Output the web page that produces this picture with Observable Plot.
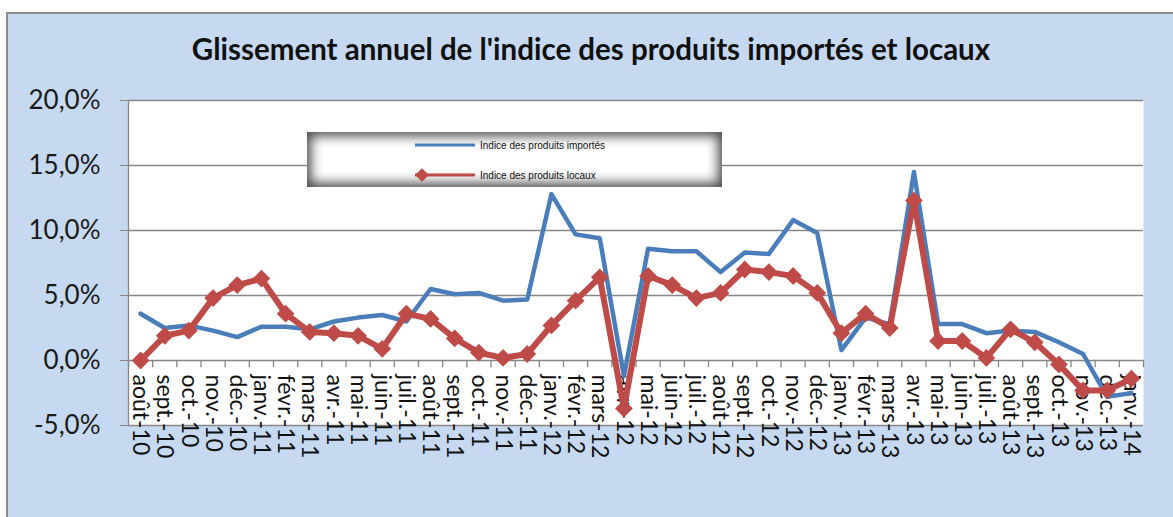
<!DOCTYPE html>
<html>
<head>
<meta charset="utf-8">
<script src="https://cdn.jsdelivr.net/npm/d3@7"></script>
<script src="https://cdn.jsdelivr.net/npm/@observablehq/plot@0.6"></script>
<style>
  html, body { margin: 0; padding: 0; background: #ffffff; }
  #wrap { position: relative; width: 1173px; height: 517px; overflow: hidden; }
  #panel { position: absolute; left: 6px; top: 12px; right: -10px; bottom: -10px;
           background: #c6d9f1; border-left: 2px solid #8c8c8c; border-top: 2px solid #8c8c8c; }
  #chart { position: absolute; left: 0; top: 0; }
  #title { position: absolute; left: 91px; top: 31px; width: 1000px; text-align: center;
           font-family: Lato, "Open Sans", sans-serif; font-weight: bold; font-size: 29.5px; color: #111; }
  #legend { position: absolute; left: 307px; top: 132px; width: 415px; height: 55px; background: #ffffff;
            box-shadow: inset 0 0 12px 4px #4a4a4a; }
</style>
</head>
<body>
<div id="wrap">
  <div id="panel"></div>
  <div id="chart"></div>
  <div id="title">Glissement annuel de l'indice des produits importés et locaux</div>
  <div id="legend"></div>
</div>
<script>
const months = ["août-10","sept.-10","oct.-10","nov.-10","déc.-10",
  "janv.-11","févr.-11","mars-11","avr.-11","mai-11","juin-11","juil.-11","août-11","sept.-11","oct.-11","nov.-11","déc.-11",
  "janv.-12","févr.-12","mars-12","avr.-12","mai-12","juin-12","juil.-12","août-12","sept.-12","oct.-12","nov.-12","déc.-12",
  "janv.-13","févr.-13","mars-13","avr.-13","mai-13","juin-13","juil.-13","août-13","sept.-13","oct.-13","nov.-13","déc.-13",
  "janv.-14"];
const importes = [3.6,2.5,2.7,2.3,1.8,2.6,2.6,2.4,3.0,3.3,3.5,3.0,5.5,5.1,5.2,4.6,4.7,
  12.8,9.7,9.4,-1.2,8.6,8.4,8.4,6.8,8.3,8.2,10.8,9.8,
  0.8,3.3,2.8,14.5,2.8,2.8,2.1,2.3,2.2,1.4,0.5,-2.8,-2.5];
const locaux = [0.0,1.9,2.3,4.8,5.8,6.3,3.6,2.2,2.1,1.9,0.9,3.6,3.2,1.7,0.6,0.2,0.5,
  2.7,4.6,6.4,-3.7,6.5,5.8,4.8,5.2,7.0,6.8,6.5,5.2,
  2.1,3.6,2.5,12.3,1.5,1.5,0.2,2.4,1.4,-0.3,-2.3,-2.3,-1.4];
const yTicks = [-5, 0, 5, 10, 15, 20];
const seriesNames = ["Indice des produits importés", "Indice des produits locaux"];

const blue = "#4a7ebb", red = "#be4b48", gray = "#868686";
const rows = months.map((m, i) => ({i, m, imp: importes[i], loc: locaux[i]}));
const bounds = d3.range(months.length + 1).map(k => k - 0.5);
const fmt = d => d3.format(".1f")(d).replace("−", "-").replace(".", ",") + "%";

const chart = Plot.plot({
  width: 1173, height: 517,
  marginLeft: 128, marginRight: 30, marginTop: 100, marginBottom: 92,
  style: {fontFamily: "Lato, 'Open Sans', sans-serif", background: "transparent", color: "#1a1a1a", overflow: "visible"},
  x: {type: "linear", domain: [-0.5, months.length - 0.5], axis: null},
  y: {domain: [-5, 20], axis: null},
  marks: [
    Plot.frame({fill: "white", stroke: null}),
    Plot.gridY(yTicks, {stroke: gray, strokeOpacity: 1, strokeWidth: 1.3}),
    Plot.ruleX([bounds[0]], {stroke: gray, strokeWidth: 1.3}),
    Plot.ruleX(bounds, {y1: 0, y2: -0.55, stroke: gray, strokeWidth: 1.3}),
    Plot.axisY({ticks: yTicks, tickFormat: fmt, tickSize: 8, tickPadding: 20, fontSize: 26, stroke: gray, fill: "#1a1a1a"}),
    Plot.text(rows, {x: "i", y: 0, text: "m", rotate: 90, textAnchor: "start", lineAnchor: "middle", dy: 14, fontSize: 23, fill: "#111"}),
    Plot.line(rows, {x: "i", y: "imp", stroke: blue, strokeWidth: 4.5, strokeLinejoin: "round"}),
    Plot.line(rows, {x: "i", y: "loc", stroke: red, strokeWidth: 6, strokeLinejoin: "round"}),
    Plot.dot(rows, {x: "i", y: "loc", symbol: "diamond2", r: 8, fill: red, stroke: null})
  ]
});
document.getElementById("chart").appendChild(chart);

// legend
const lg = d3.select("#legend").append("svg").attr("width", 415).attr("height", 55)
  .style("position", "absolute").style("left", 0).style("top", 0)
  .style("font-family", "'Liberation Sans', Arial, sans-serif");
const items = [{name: seriesNames[0], color: blue, marker: false, y: 13, w: 3},
               {name: seriesNames[1], color: red, marker: true, y: 43, w: 3}];
for (const it of items) {
  lg.append("line").attr("x1", 108).attr("x2", 168).attr("y1", it.y).attr("y2", it.y)
    .attr("stroke", it.color).attr("stroke-width", it.w);
  if (it.marker) {
    lg.append("path").attr("d", d3.symbol(d3.symbolDiamond2, 120)()).attr("transform", `translate(115,${it.y})`).attr("fill", it.color);
  }
  lg.append("text").attr("x", 173).attr("y", it.y).attr("dy", "0.35em").attr("font-size", 10)
    .attr("fill", "#111").text(it.name);
}
</script>
</body>
</html>
